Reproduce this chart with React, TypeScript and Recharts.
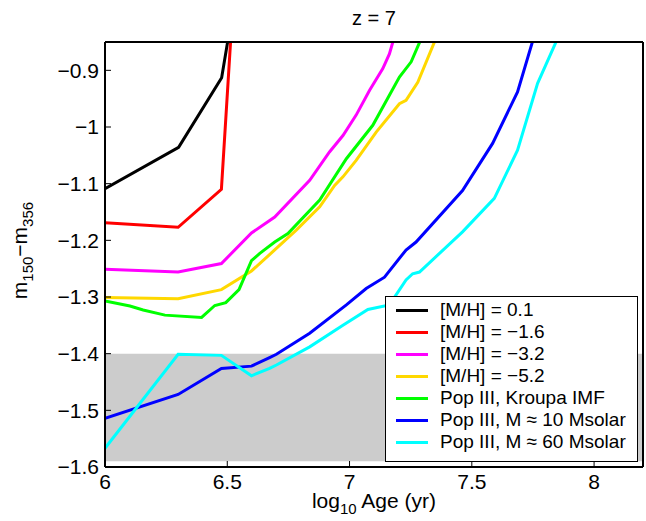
import { LineChart, Line, XAxis, YAxis, ReferenceArea, Legend, Label } from 'recharts';

const FONT = '"Liberation Sans", Arial, Helvetica, sans-serif';

// log10 age (yr) and m150 - m356 colour
const mh01Age = [6, 6.301, 6.477, 6.602];
const mh01Col = [-1.109, -1.036, -0.913, -0.59];

const mh16Age = [6, 6.299, 6.476, 6.602];
const mh16Col = [-1.169, -1.177, -1.11, -0.235];

const mh32Age = [6, 6.299, 6.476, 6.599, 6.694, 6.837, 6.918, 6.973, 7.027, 7.082, 7.136, 7.163, 7.2];
const mh32Col = [-1.251, -1.256, -1.241, -1.187, -1.159, -1.094, -1.044, -1.015, -0.979, -0.935, -0.897, -0.871, -0.816];

const mh52Age = [6, 6.299, 6.476, 6.599, 6.694, 6.782, 6.878, 6.939, 6.973, 7.027, 7.109, 7.204, 7.231, 7.279, 7.4];
const mh52Col = [-1.301, -1.303, -1.287, -1.254, -1.217, -1.182, -1.141, -1.103, -1.088, -1.059, -1.009, -0.959, -0.953, -0.921, -0.795];

const kroupaAge = [6, 6.102, 6.156, 6.245, 6.395, 6.449, 6.494, 6.548, 6.599, 6.633, 6.694, 6.748, 6.878, 6.987, 7.095, 7.204, 7.252, 7.32];
const kroupaCol = [-1.307, -1.316, -1.323, -1.332, -1.336, -1.315, -1.31, -1.287, -1.236, -1.223, -1.203, -1.188, -1.129, -1.056, -0.997, -0.912, -0.885, -0.817];

const m10Age = [6, 6.299, 6.476, 6.599, 6.673, 6.701, 6.837, 6.987, 7.068, 7.143, 7.231, 7.272, 7.462, 7.585, 7.687, 7.778];
const m10Col = [-1.514, -1.472, -1.426, -1.422, -1.407, -1.401, -1.364, -1.314, -1.285, -1.265, -1.217, -1.203, -1.112, -1.029, -0.938, -0.806];

const m60Age = [6, 6.299, 6.476, 6.599, 6.673, 6.701, 6.837, 6.973, 7.075, 7.163, 7.231, 7.258, 7.286, 7.462, 7.592, 7.687, 7.769, 7.9];
const m60Col = [-1.567, -1.401, -1.403, -1.439, -1.426, -1.42, -1.388, -1.35, -1.322, -1.314, -1.27, -1.259, -1.256, -1.185, -1.126, -1.041, -0.923, -0.796];

const names = [
  '[M/H] = 0.1',
  '[M/H] = \u22121.6',
  '[M/H] = \u22123.2',
  '[M/H] = \u22125.2',
  'Pop III, Kroupa IMF',
  'Pop III, M \u2248 10 Msolar',
  'Pop III, M \u2248 60 Msolar',
];
const colors = ['#000000', '#ff0000', '#ff00ff', '#ffd800', '#00ff00', '#0000ff', '#00ffff'];
const ages = [mh01Age, mh16Age, mh32Age, mh52Age, kroupaAge, m10Age, m60Age];
const cols = [mh01Col, mh16Col, mh32Col, mh52Col, kroupaCol, m10Col, m60Col];

const xTicks = [6, 6.5, 7, 7.5, 8];
const yTicks = [-1.6, -1.5, -1.4, -1.3, -1.2, -1.1, -1, -0.9];

// observed colour band
const bandLow = -1.59;
const bandHigh = -1.4;

const series = names.map((name, i) => ({
  name,
  color: colors[i],
  data: ages[i].map((age, j) => ({ age, col: cols[i][j] })),
}));

const fmt = (v: number) => String(Number(v.toFixed(2))).replace('-', '\u2212');

const tickStyle = { fill: '#000', fontSize: 21, fontFamily: FONT };
const axisLine = { stroke: '#000', strokeWidth: 2 };
const tickLine = { stroke: '#000', strokeWidth: 1 };

const Title = (props: any) => {
  const vb = props.viewBox || { x: 105, y: 0, width: 538, height: 42 };
  return (
    <text x={vb.x + vb.width / 2} y={25} textAnchor="middle" fontSize={20} fontFamily={FONT} fill="#000">
      z = 7
    </text>
  );
};

const XTitle = (props: any) => {
  const vb = props.viewBox || { x: 105, y: 467, width: 538, height: 54 };
  return (
    <text x={vb.x + vb.width / 2} y={vb.y + 41} textAnchor="middle" fontSize={21} fontFamily={FONT} fill="#000">
      log<tspan dy={6} fontSize={15}>10</tspan>
      <tspan dy={-6}> Age (yr)</tspan>
    </text>
  );
};

const YTitle = (props: any) => {
  const vb = props.viewBox || { x: 0, y: 42, width: 105, height: 425 };
  const cx = 27;
  const cy = vb.y + vb.height / 2 - 4;
  return (
    <text x={cx} y={cy} textAnchor="middle" fontSize={21} fontFamily={FONT} fill="#000" transform={`rotate(-90, ${cx}, ${cy})`}>
      m<tspan dy={6} fontSize={15}>150</tspan>
      <tspan dy={-6}>{'\u2212'}m</tspan>
      <tspan dy={6} fontSize={15}>356</tspan>
    </text>
  );
};

const renderLegend = () => (
  <div
    style={{
      border: '1px solid #000',
      background: '#fff',
      boxSizing: 'border-box',
      width: 253,
      height: 166,
      paddingTop: 2,
      fontFamily: FONT,
      fontSize: 19,
      color: '#000',
    }}
  >
    {series.map((s) => (
      <div key={s.name} style={{ display: 'flex', alignItems: 'center', height: 22, whiteSpace: 'nowrap' }}>
        <div style={{ width: 32, height: 3, background: s.color, marginLeft: 10, marginRight: 12 }} />
        <span>{s.name}</span>
      </div>
    ))}
  </div>
);

export default function App() {
  return (
    <div style={{ position: 'absolute', left: 0, top: 0, background: '#fff' }}>
      <LineChart width={646} height={521} margin={{ top: 0, right: 0, bottom: 0, left: 0 }}>
        <XAxis
          xAxisId="bottom"
          type="number"
          dataKey="age"
          domain={[6, 8.2]}
          ticks={xTicks}
          allowDataOverflow
          height={54}
          tick={tickStyle}
          tickFormatter={fmt}
          tickSize={-6}
          tickMargin={13}
          axisLine={axisLine}
          tickLine={tickLine}
        >
          <Label content={XTitle} />
        </XAxis>
        <XAxis
          xAxisId="top"
          orientation="top"
          type="number"
          dataKey="age"
          domain={[6, 8.2]}
          ticks={xTicks}
          allowDataOverflow
          height={42}
          tick={false}
          tickSize={-6}
          axisLine={axisLine}
          tickLine={tickLine}
        >
          <Label content={Title} />
        </XAxis>
        <YAxis
          yAxisId="left"
          type="number"
          dataKey="col"
          domain={[-1.6, -0.85]}
          ticks={yTicks}
          allowDataOverflow
          width={105}
          tick={tickStyle}
          tickFormatter={fmt}
          tickSize={-6}
          tickMargin={12}
          axisLine={axisLine}
          tickLine={tickLine}
        >
          <Label content={YTitle} />
        </YAxis>
        <YAxis
          yAxisId="right"
          orientation="right"
          type="number"
          domain={[-1.6, -0.85]}
          ticks={yTicks}
          allowDataOverflow
          width={3}
          tick={false}
          tickSize={-6}
          axisLine={axisLine}
          tickLine={tickLine}
        />
        <ReferenceArea
          xAxisId="bottom"
          yAxisId="left"
          x1={6}
          x2={8.2}
          y1={bandLow}
          y2={bandHigh}
          fill="#cccccc"
          fillOpacity={1}
          stroke="none"
        />
        {series.map((s) => (
          <Line
            key={s.name}
            xAxisId="bottom"
            yAxisId="left"
            data={s.data}
            dataKey="col"
            name={s.name}
            stroke={s.color}
            strokeWidth={3}
            dot={false}
            activeDot={false}
            isAnimationActive={false}
          />
        ))}
        <Legend
          layout="vertical"
          align="center"
          verticalAlign="middle"
          content={renderLegend}
          wrapperStyle={{ left: 385, top: 296, width: 253, height: 166 }}
        />
      </LineChart>
    </div>
  );
}
